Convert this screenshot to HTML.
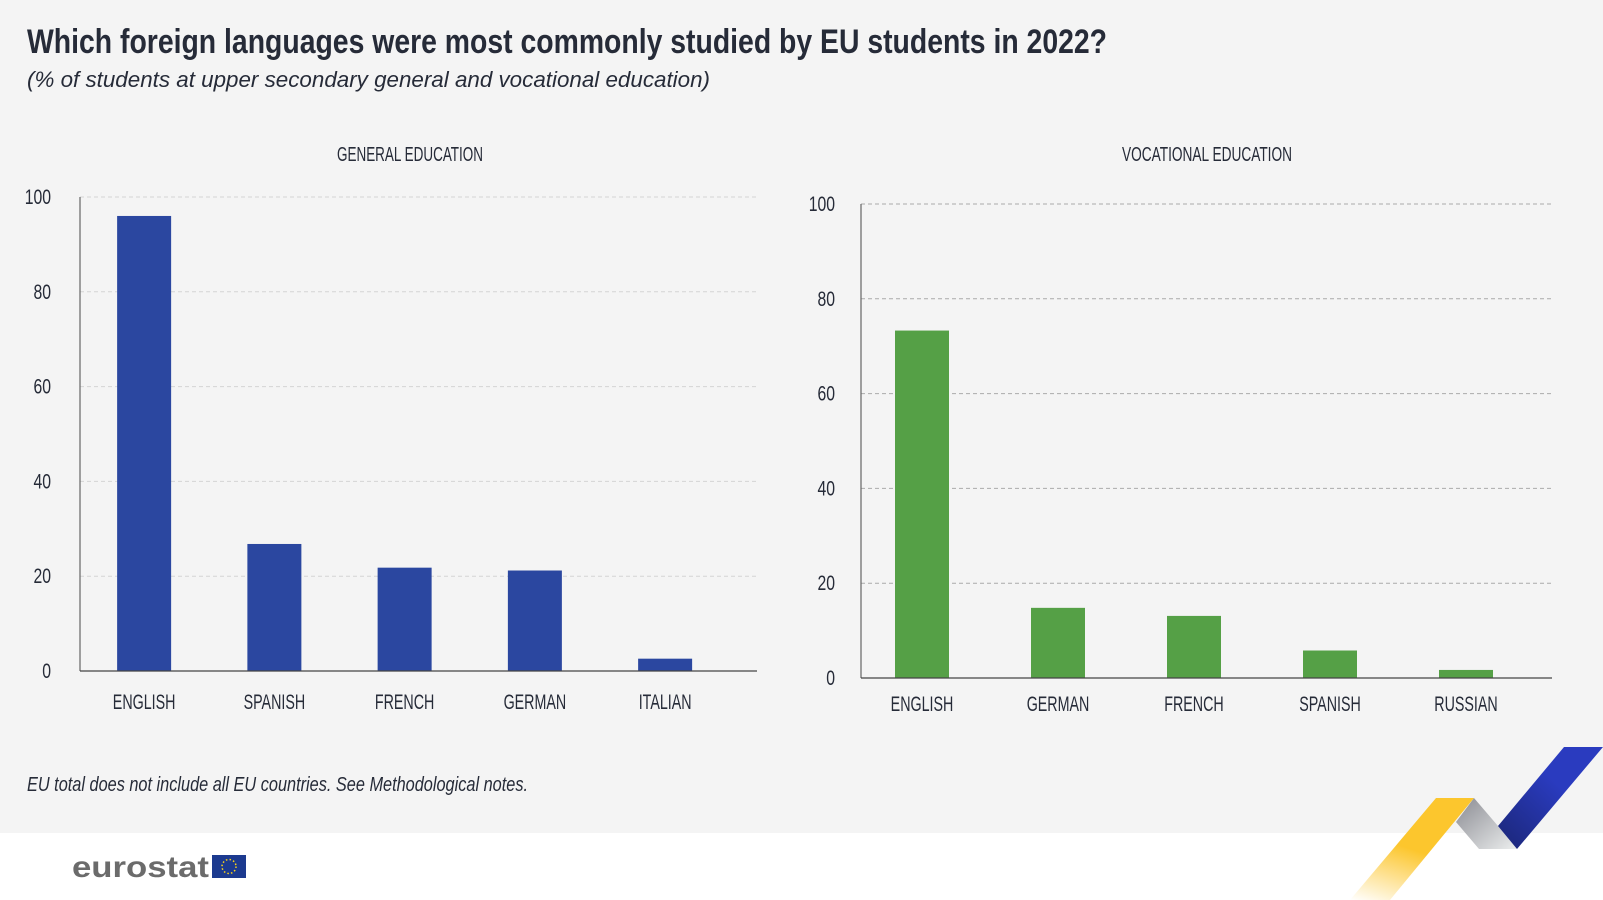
<!DOCTYPE html>
<html><head><meta charset="utf-8"><style>
html,body{margin:0;padding:0;background:#fff}
svg{display:block;font-family:"Liberation Sans",sans-serif}
</style></head><body>
<svg width="1603" height="900" viewBox="0 0 1603 900">
<defs>
<linearGradient id="gy" x1="0" y1="1" x2="0.4" y2="0"><stop offset="0" stop-color="#fdc62d" stop-opacity="0"/><stop offset="0.6" stop-color="#fcc62d"/></linearGradient>
<linearGradient id="gg" x1="0" y1="0" x2="1" y2="1"><stop offset="0" stop-color="#8a8b92"/><stop offset="1" stop-color="#eceeee"/></linearGradient>
<linearGradient id="gb" x1="1" y1="0" x2="0" y2="1"><stop offset="0.4" stop-color="#2a3bbf"/><stop offset="1" stop-color="#1b2676"/></linearGradient>
</defs>
<rect x="0" y="0" width="1603" height="833" fill="#f4f4f4"/>
<text x="27" y="53" font-size="34" font-weight="bold" fill="#262b38" textLength="1080" lengthAdjust="spacingAndGlyphs">Which foreign languages were most commonly studied by EU students in 2022?</text>
<text x="27" y="87" font-size="22" font-style="italic" fill="#262b38" textLength="683" lengthAdjust="spacingAndGlyphs">(% of students at upper secondary general and vocational education)</text>
<text x="410" y="161" font-size="20" fill="#262b38" text-anchor="middle" textLength="146" lengthAdjust="spacingAndGlyphs">GENERAL EDUCATION</text>
<text x="1207" y="161" font-size="20" fill="#262b38" text-anchor="middle" textLength="170" lengthAdjust="spacingAndGlyphs">VOCATIONAL EDUCATION</text>
<g id="left"></g>
<g id="right"></g>
<text x="27" y="791" font-size="20" font-style="italic" fill="#262b38" textLength="501" lengthAdjust="spacingAndGlyphs">EU total does not include all EU countries. See Methodological notes.</text>
<text x="72" y="877" font-size="30" font-weight="bold" fill="#6b6b6b" textLength="137" lengthAdjust="spacingAndGlyphs">eurostat</text>
<rect x="212" y="855" width="34" height="23" fill="#1c3a8f"/>
<circle cx="229" cy="866.5" r="7" fill="none" stroke="#ffd617" stroke-width="1.5" stroke-dasharray="1.5 2.2"/>
<polygon points="1436,798 1474,798 1390,900 1350,900" fill="url(#gy)"/>
<polygon points="1474,798 1498,826 1517,849 1479,849 1456,822" fill="url(#gg)"/>
<polygon points="1564,747 1603,747 1517,849 1498,826" fill="url(#gb)"/>
</svg>
<script>
const genCats=["ENGLISH","SPANISH","FRENCH","GERMAN","ITALIAN"];
const genVals=[96,26.8,21.8,21.2,2.6];
const vocCats=["ENGLISH","GERMAN","FRENCH","SPANISH","RUSSIAN"];
const vocVals=[73.3,14.8,13.1,5.8,1.7];
const yTicks=[0,20,40,60,80,100];
const NS="http://www.w3.org/2000/svg";
function mk(tag,attrs,parent){const e=document.createElementNS(NS,tag);for(const k in attrs)e.setAttribute(k,attrs[k]);parent.appendChild(e);return e;}
function draw(g,cats,vals,cfg){
  const y=v=>cfg.y0-(v/100)*(cfg.y0-cfg.y100);
  const band=(cfg.x1-cfg.x0-cfg.padL-cfg.padR)/cats.length;
  const cx=i=>cfg.x0+cfg.padL+band*(i+0.5);
  yTicks.forEach(t=>{
    if(t>0){const l=mk('line',{x1:cfg.x0,x2:cfg.x1,y1:y(t),y2:y(t),stroke:cfg.gridC,'stroke-dasharray':'4 3','stroke-width':1},g);
    
    }
    const tx=mk('text',{x:cfg.tickX,y:y(t)+7,'font-size':21,fill:'#262b38','text-anchor':'end',transform:`translate(${cfg.tickX} 0) scale(0.75 1) translate(${-cfg.tickX} 0)`},g);
    tx.textContent=t;
    
    
  });
  vals.forEach((v,i)=>{
    const r=mk('rect',{x:cx(i)-27,y:y(v),width:54,height:cfg.y0-y(v),fill:cfg.color},g);
    
    
    const t=mk('text',{x:cx(i),y:cfg.labY,'font-size':21,fill:'#262b38','text-anchor':'middle',transform:`translate(${cx(i)} 0) scale(0.68 1) translate(${-cx(i)} 0)`},g);
    t.textContent=cats[i];
    
    
  });
  const ax=mk('line',{x1:cfg.x0,x2:cfg.x0,y1:cfg.y100,y2:cfg.y0,stroke:'#666','stroke-width':1.2},g);
  
  
  const bx=mk('line',{x1:cfg.x0,x2:cfg.x1,y1:cfg.y0,y2:cfg.y0,stroke:'#444','stroke-width':1.2},g);
  
  
}
draw(document.getElementById('left'),genCats,genVals,{x0:80,x1:757,y0:671,y100:197,padL:-1,padR:26.75,tickX:51,labY:709,color:'#2b47a0',gridC:'#d4d4d4'});
draw(document.getElementById('right'),vocCats,vocVals,{x0:861,x1:1552,y0:678,y100:204,padL:-7,padR:18,tickX:835,labY:711,color:'#55a046',gridC:'#aaaaaa'});
</script>
</body></html>
